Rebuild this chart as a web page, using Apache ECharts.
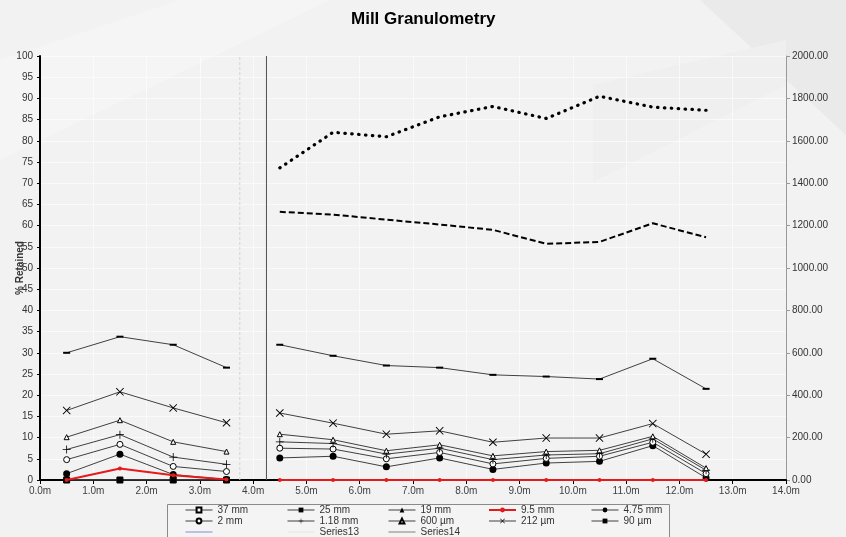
<!DOCTYPE html>
<html><head><meta charset="utf-8">
<script src="https://cdn.jsdelivr.net/npm/echarts@6/dist/echarts.min.js"></script>
<style>html,body{margin:0;padding:0;background:#f2f2f2}#c{width:846px;height:537px}</style>
</head><body><div id="c"></div>
<script>
// Sample positions along the mill (m)
const positions = [0.5, 1.5, 2.5, 3.5, 4.5, 5.5, 6.5, 7.5, 8.5, 9.5, 10.5, 11.5, 12.5];
// % Retained (left axis)
const mm37   = [0, 0, 0, 0, null, null, null, null, null, null, null, null, null];
const mm25   = [0, 0, 0, 0, null, null, null, null, null, null, null, null, null];
const mm19   = [0, 0, 0, 0, null, null, null, null, null, null, null, null, null];
const mm9_5  = [0, 2.7, 1.1, 0.1, 0, 0, 0, 0, 0, 0, 0, 0, 0];
const mm4_75 = [1.5, 6.1, 1.3, 0.1, 5.2, 5.6, 3.1, 5.2, 2.5, 4.0, 4.4, 8.1, 0.5];
const mm2    = [4.8, 8.4, 3.2, 2.0, 7.5, 7.3, 5.0, 6.5, 3.8, 5.1, 5.6, 8.9, 1.5];
const mm1_18 = [7.2, 10.7, 5.4, 3.7, 9.0, 8.6, 6.1, 7.5, 4.8, 5.9, 6.2, 9.7, 2.3];
const um600  = [10.1, 14.1, 9.0, 6.7, 10.8, 9.5, 6.9, 8.3, 5.7, 6.7, 7.0, 10.3, 2.8];
const um212  = [16.4, 20.8, 17.0, 13.5, 15.8, 13.4, 10.8, 11.6, 8.9, 9.9, 9.9, 13.3, 6.1];
const um90   = [30.0, 33.8, 31.9, 26.5, 31.9, 29.3, 27.0, 26.5, 24.8, 24.4, 23.8, 28.6, 21.5];
// Right axis series
const series11 = [null, null, null, null, 1472, 1640, 1619, 1713, 1762, 1705, 1810, 1759, 1744];
const series12 = [null, null, null, null, 1265, 1252, 1228, 1205, 1180, 1114, 1123, 1211, 1145];
// Vertical separators (x position in m)
const series13X = 3.75;
const series14X = 4.25;
const titleText = 'Mill Granulometry';
const yName = '% Retained';

function withBreak(vals) {
  const out = [];
  vals.forEach((v, i) => {
    if (i === 4) out.push([4.0, '-']);
    out.push([positions[i], v === null ? '-' : v]);
  });
  return out;
}

const LINE = '#404040';
const PLUS = 'path://M4.5,0H5.5V10H4.5Z M0,4.5H10V5.5H0Z';
const CROSS = 'path://M0.8,0L5,4.2L9.2,0L10,0.8L5.8,5L10,9.2L9.2,10L5,5.8L0.8,10L0,9.2L4.2,5L0,0.8Z';
const DASH = 'path://M0,0H10V2H0Z';
const HLINE = 'path://M0,0H27V1H0Z';

function pct(name, vals, symbol, size, hollow) {
  return {
    name, type: 'line', yAxisIndex: 0, data: withBreak(vals),
    symbol, symbolSize: size, showAllSymbol: true,
    lineStyle: { color: LINE, width: 1 },
    itemStyle: hollow ? { color: '#ffffff', borderColor: '#000', borderWidth: 1 } : { color: '#000', borderWidth: 0 },
    emphasis: { disabled: true }, z: 3
  };
}

const FONT = 'Liberation Sans, Arial, sans-serif';
const chart = echarts.init(document.getElementById('c'));
const legendCols = [
  ['37 mm', '2 mm', '\u200b'],
  ['25 mm', '1.18 mm', 'Series13'],
  ['19 mm', '600 µm', 'Series14'],
  ['9.5 mm', '212 µm'],
  ['4.75 mm', '90 µm']
];
const legendX = [185, 287, 388, 488, 591];
const lineOnly = { '\u200b': '#8a8ad0', 'Series13': '#e6e6e6', 'Series14': '#808080' };

chart.setOption({
  animation: false,
  backgroundColor: '#f2f2f2',
  textStyle: { fontFamily: FONT },
  title: {
    text: titleText, left: 346, top: 6,
    textStyle: { fontFamily: FONT, fontWeight: 'bold', fontSize: 17, color: '#000' }
  },
  graphic: [
    { type: 'polygon', z: -10, shape: { points: [[700, 0], [846, 0], [846, 135]] }, style: { fill: '#eaeaea' } },
    { type: 'polygon', z: -10, shape: { points: [[0, 60], [180, 0], [330, 0], [0, 160]] }, style: { fill: '#f5f5f5' } },
    { type: 'polygon', z: -10, shape: { points: [[593, 85], [786, 40], [786, 85], [593, 182]] }, style: { fill: '#efefef' } },
    { type: 'rect', z: -5, shape: { x: 167.5, y: 504.5, width: 502, height: 40 }, style: { fill: '#f4f4f4', stroke: '#8a8a8a', lineWidth: 1 } }
  ],
  legend: legendCols.map((names, i) => ({
    data: names.map(n => lineOnly[n]
      ? { name: n, icon: HLINE, itemStyle: { color: lineOnly[n] } }
      : { name: n, lineStyle: { width: n === '9.5 mm' ? 2 : 1 } }),
    orient: 'vertical', left: legendX[i], top: 505, padding: 0,
    itemWidth: 27, itemHeight: 6, itemGap: 1, selectedMode: false,
    textStyle: { fontSize: 10, color: '#333', lineHeight: 10, fontFamily: FONT }
  })),
  grid: { left: 40, right: 60, top: 56, bottom: 57, containLabel: false, outerBoundsMode: 'none' },
  xAxis: {
    type: 'value', min: 0, max: 14, interval: 1,
    axisLine: { lineStyle: { color: '#000', width: 2 } },
    axisTick: { show: true, length: 4, lineStyle: { color: '#000' } },
    axisLabel: { formatter: v => v.toFixed(1) + 'm', color: '#404040', fontSize: 10, margin: 6 },
    splitLine: { show: true, lineStyle: { color: 'rgba(255,255,255,0.6)', width: 1 } }
  },
  yAxis: [
    {
      type: 'value', min: 0, max: 100, interval: 5, position: 'left',
      name: yName, nameLocation: 'middle', nameGap: 15, nameRotate: 90, nameMoveOverlap: false,
      nameTextStyle: { fontWeight: 'bold', fontSize: 10, color: '#333' },
      axisLine: { show: true, lineStyle: { color: '#000', width: 2 } },
      axisTick: { show: true, length: 3, lineStyle: { color: '#000' } },
      axisLabel: { color: '#333', fontSize: 10, margin: 7 },
      splitLine: { show: true, lineStyle: { color: 'rgba(255,255,255,0.6)', width: 1 } }
    },
    {
      type: 'value', min: 0, max: 2000, interval: 200, position: 'right',
      axisLine: { show: true, lineStyle: { color: '#999', width: 1 } },
      axisTick: { show: true, length: 4, lineStyle: { color: '#999' } },
      axisLabel: { color: '#333', fontSize: 10, margin: 6, formatter: v => v.toFixed(2) },
      splitLine: { show: false }
    }
  ],
  series: [
    pct('37 mm', mm37, 'rect', 6, true),
    pct('25 mm', mm25, 'rect', 6, false),
    pct('19 mm', mm19, 'triangle', 5, false),
    {
      name: '9.5 mm', type: 'line', yAxisIndex: 0, data: withBreak(mm9_5),
      symbol: 'circle', symbolSize: 4, showAllSymbol: true,
      lineStyle: { color: '#e41a1c', width: 2 }, itemStyle: { color: '#e41a1c', borderWidth: 0 }, z: 4
    },
    pct('4.75 mm', mm4_75, 'circle', 7, false),
    pct('2 mm', mm2, 'circle', 6, true),
    pct('1.18 mm', mm1_18, PLUS, 8, false),
    pct('600 µm', um600, 'triangle', 5, true),
    pct('212 µm', um212, CROSS, 8, false),
    pct('90 µm', um90, DASH, [7, 2], false),
    {
      name: '\u200b', type: 'line', yAxisIndex: 0, data: [],
      symbol: 'none', lineStyle: { color: '#8a8ad0', width: 1 }, itemStyle: { color: '#8a8ad0' }
    },
    {
      name: 'Series11', type: 'line', yAxisIndex: 1, data: withBreak(series11),
      symbol: 'none', lineStyle: { color: '#000', width: 3.2, type: [0.5, 6.4], cap: 'round' }, z: 3
    },
    {
      name: 'Series12', type: 'line', yAxisIndex: 1, data: withBreak(series12),
      symbol: 'none', lineStyle: { color: '#000', width: 2, type: [6, 3] }, z: 3
    },
    {
      name: 'Series13', type: 'line', yAxisIndex: 0, data: [[series13X, 0], [series13X, 100]],
      symbol: 'none', lineStyle: { color: '#d4d4d4', width: 1, type: [3, 2] }, itemStyle: { color: '#d4d4d4' }, z: 2
    },
    {
      name: 'Series14', type: 'line', yAxisIndex: 0, data: [[series14X, 0], [series14X, 100]],
      symbol: 'none', lineStyle: { color: '#505050', width: 1 }, itemStyle: { color: '#505050' }, z: 2
    }
  ]
});
</script>
</body></html>
